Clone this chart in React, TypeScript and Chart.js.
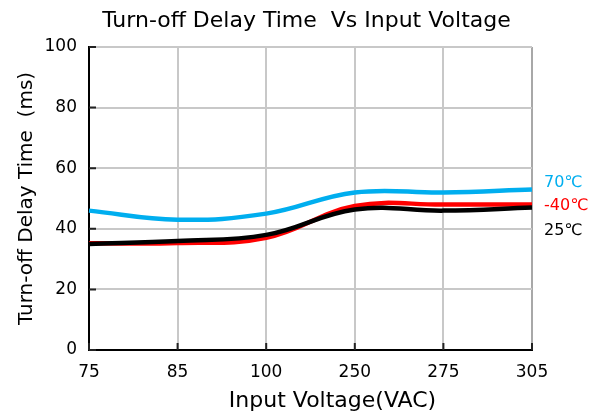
import React, { useEffect, useRef } from "react";
import { Chart, registerables } from "chart.js";

Chart.register(...registerables);

const categories = ["75", "85", "100", "250", "275", "305"];
const series70 = [46, 43, 45, 52, 52, 53];
const seriesMinus40 = [35.2, 35.3, 37, 47.5, 48, 48];
const series25 = [35, 36, 38, 46.4, 46, 47];
const seriesLabels = ["70℃", "-40℃", "25℃"];
const seriesColors = ["#00AEEF", "#FF0000", "#000000"];
const labelValues = [55.2, 47.6, 39.3];
const yTicks = [0, 20, 40, 60, 80, 100];
const chartTitle = "Turn-off Delay Time  Vs Input Voltage";
const xTitle = "Input Voltage(VAC)";
const yTitle = "Turn-off Delay Time  (ms)";

const FONT = "'DejaVu Sans', sans-serif";

export default function App() {
  const ref = useRef<HTMLCanvasElement | null>(null);
  useEffect(() => {
    document.body.style.margin = "0";
    const canvas = ref.current!;
    const extras = {
      id: "extras",
      afterDraw(chart: any) {
        const ctx = chart.ctx;
        const { left, right, bottom } = chart.chartArea;
        const xs = chart.scales.x;
        const ys = chart.scales.y;
        ctx.save();
        ctx.strokeStyle = "#222";
        ctx.lineWidth = 2;
        ctx.beginPath();
        yTicks.forEach((v) => {
          const y = ys.getPixelForValue(v);
          ctx.moveTo(left, y);
          ctx.lineTo(left + 7, y);
        });
        categories.forEach((_, i) => {
          const x = xs.getPixelForValue(i);
          ctx.moveTo(x, bottom);
          ctx.lineTo(x, bottom - 7);
        });
        ctx.stroke();
        ctx.font = `16px ${FONT}`;
        ctx.textAlign = "left";
        ctx.textBaseline = "middle";
        seriesLabels.forEach((t, i) => {
          ctx.fillStyle = seriesColors[i];
          ctx.fillText(t, right + 12, ys.getPixelForValue(labelValues[i]));
        });
        ctx.fillStyle = "#000";
        ctx.textAlign = "center";
        ctx.font = `22px ${FONT}`;
        ctx.fillText(chartTitle, (left + right) / 2 - 4, 21);
        ctx.font = `22px ${FONT}`;
        ctx.fillText(xTitle, (left + right) / 2 + 22, 401);
        ctx.restore();
      },
    };
    const chart = new Chart(canvas, {
      type: "line",
      data: {
        labels: categories,
        datasets: [
          { label: seriesLabels[0], data: series70, borderColor: seriesColors[0], borderWidth: 4.5, tension: 0.4, pointRadius: 0 },
          { label: seriesLabels[2], data: series25, borderColor: seriesColors[2], borderWidth: 4.5, tension: 0.4, pointRadius: 0 },
          { label: seriesLabels[1], data: seriesMinus40, borderColor: seriesColors[1], borderWidth: 4.5, tension: 0.4, pointRadius: 0 },
        ],
      },
      options: {
        animation: false,
        responsive: false,
        layout: { padding: { left: 0, right: 62, top: 47, bottom: 0 } },
        plugins: {
          legend: { display: false },
          tooltip: { enabled: false },
          title: { display: false },
        },
        scales: {
          x: {
            type: "category",
            offset: false,
            grid: { color: (c: any) => (c.index === categories.length - 1 ? "#a8a8a8" : "#c8c8c8"), lineWidth: 2, drawTicks: false },
            border: { color: "#000", width: 2 },
            ticks: { color: "#000", font: { family: FONT, size: 17 }, padding: 12, maxRotation: 0 },
            afterFit(scale: any) { scale.height = 64; },
          },
          y: {
            min: 0,
            max: 100,
            ticks: { stepSize: 20, color: "#000", font: { family: FONT, size: 17 }, padding: 12 },
            grid: { color: "#c8c8c8", lineWidth: 2, drawTicks: false },
            border: { color: "#000", width: 2 },
            title: { display: true, text: yTitle, color: "#000", font: { family: FONT, size: 20 }, padding: { top: 15, bottom: 0 } },
            afterFit(scale: any) { scale.width = 89; },
          },
        },
      },
      plugins: [extras],
    });
    return () => chart.destroy();
  }, []);
  return (
    <div style={{ width: 594, height: 414 }}>
      <canvas ref={ref} width={594} height={414} style={{ display: "block" }} />
    </div>
  );
}
